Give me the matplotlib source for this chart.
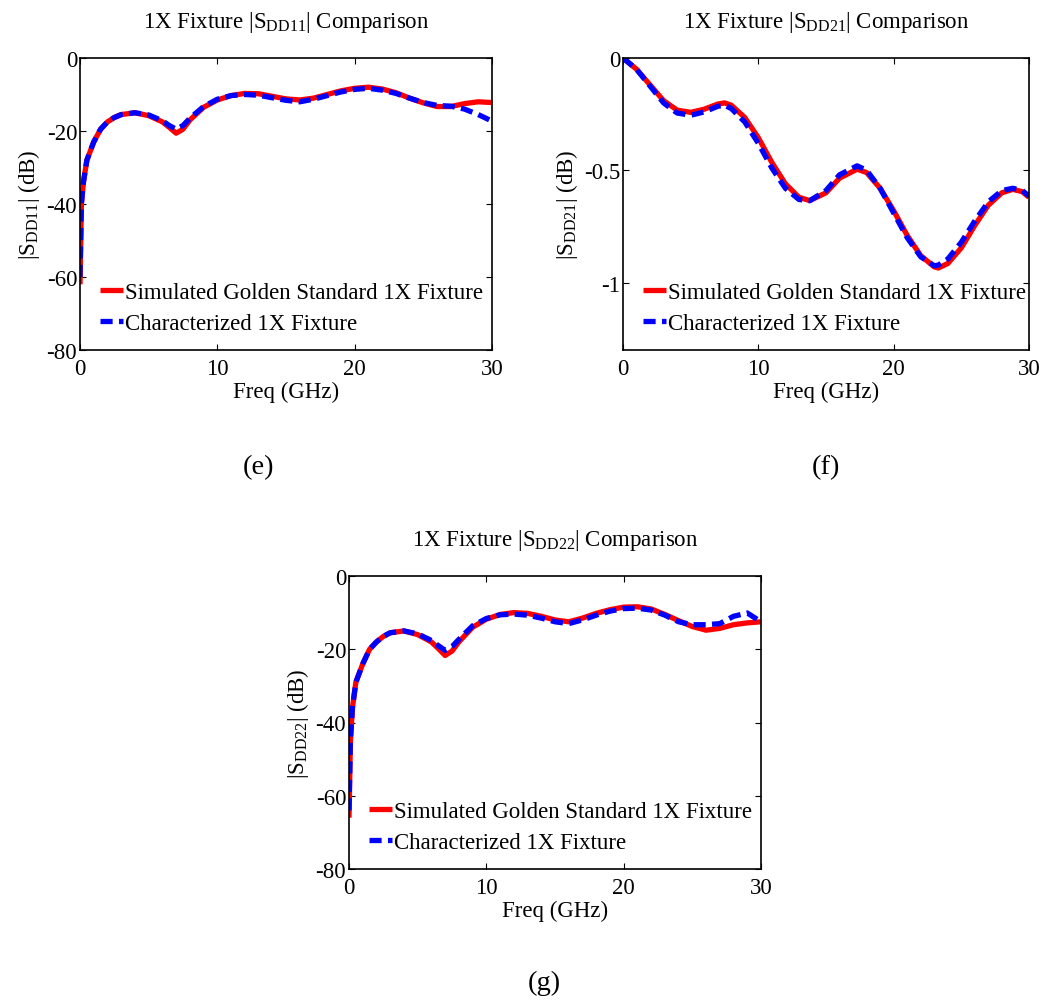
import numpy as np
import matplotlib.pyplot as plt

plt.rcParams['font.family'] = ['Liberation Serif', 'DejaVu Serif']
plt.rcParams['mathtext.fontset'] = 'custom'
plt.rcParams['mathtext.rm'] = 'Liberation Serif'
plt.rcParams['mathtext.it'] = 'Liberation Serif:italic'
plt.rcParams['axes.unicode_minus'] = False

# frequency points (GHz)
freq = [0, 0.1, 0.25, 0.5, 1, 1.5, 2, 2.5, 3, 4, 5, 6, 6.5, 7, 7.5, 8, 9, 10, 11, 12, 13,
        14, 15, 16, 17, 18, 19, 20, 21, 22, 23, 24, 25, 26, 27, 28, 29, 30]

# |SDD11| (dB)
sdd11_sim = [-62, -40, -34, -28, -23, -19.5, -17.5, -16.3, -15.5, -15, -15.8, -17.5, -19, -20.6,
             -19.5, -17, -13.5, -11.5, -10.3, -9.7, -9.8, -10.5, -11.2, -11.5, -11, -10, -9,
             -8.3, -8, -8.5, -9.5, -11, -12.3, -13.3, -13.3, -12.5, -12, -12.2]
sdd11_char = [-60, -40, -34, -28, -23, -19.5, -17.5, -16.3, -15.5, -15, -15.6, -17.2, -18.5,
              -19.5, -18.5, -16.5, -13.3, -11.3, -10.3, -10, -10.2, -10.9, -11.6, -12, -11.3,
              -10.3, -9.3, -8.6, -8.3, -8.8, -9.7, -11, -12.2, -13, -13.2, -14, -15.5, -17.3]

# |SDD21| (dB)
freq21 = [0, 1, 2, 3, 4, 5, 6, 7, 7.5, 8, 9, 10, 11, 12, 13, 13.8, 15, 16, 17.3, 18, 19, 20,
          21, 22, 23, 23.3, 24, 25, 26, 27, 28, 28.8, 29.5, 30]
sdd21_sim = [0, -0.05, -0.12, -0.19, -0.232, -0.242, -0.228, -0.205, -0.2, -0.21, -0.265,
             -0.355, -0.465, -0.56, -0.62, -0.635, -0.6, -0.535, -0.495, -0.51, -0.58, -0.68,
             -0.79, -0.88, -0.93, -0.935, -0.915, -0.845, -0.745, -0.655, -0.6, -0.585,
             -0.595, -0.62]
sdd21_char = [0, -0.05, -0.125, -0.2, -0.245, -0.255, -0.24, -0.215, -0.21, -0.225, -0.285,
              -0.38, -0.49, -0.58, -0.63, -0.635, -0.59, -0.52, -0.48, -0.5, -0.58, -0.69,
              -0.8, -0.885, -0.925, -0.922, -0.895, -0.82, -0.725, -0.64, -0.59, -0.58,
              -0.59, -0.615]

# |SDD22| (dB)
sdd22_sim = [-66, -45, -36, -29, -24, -20, -18, -16.5, -15.5, -15, -16, -18, -19.8, -21.7,
             -20.5, -18, -14, -11.8, -10.5, -10, -10.2, -11, -12, -12.5, -11.5, -10.2, -9.2,
             -8.5, -8.4, -9, -10.5, -12.2, -13.8, -14.8, -14.3, -13.3, -12.8, -12.5]
sdd22_char = [-64, -45, -36, -29, -24, -20, -18, -16.5, -15.5, -15, -15.8, -17.6, -19,
              -20.3, -19.3, -17.3, -13.6, -11.6, -10.6, -10.4, -10.7, -11.5, -12.5, -13,
              -12, -10.7, -9.6, -8.9, -8.8, -9.3, -10.7, -12.5, -13.3, -13.3, -13, -11,
              -10.1, -12.5]

fs = 16.5
fig = plt.figure(figsize=(10.44, 10.04), dpi=100)
W, H = 1044.0, 1004.0


def make_ax(x0, x1, y0, y1):
    return fig.add_axes([x0 / W, 1 - y1 / H, (x1 - x0) / W, (y1 - y0) / H])


def style(ax, ylim, yticks, title, ylabel):
    ax.set_xlim(0, 30)
    ax.set_ylim(*ylim)
    ax.set_xticks([0, 10, 20, 30])
    ax.set_yticks(yticks)
    ax.tick_params(direction='in', top=True, right=True, labelsize=fs, length=4,
                   width=0.8, pad=2)
    ax.tick_params(axis='x', pad=6)
    for s in ax.spines.values():
        s.set_linewidth(1.2)
    ax.set_title(title, fontsize=fs, pad=22)
    ax.set_xlabel('Freq (GHz)', fontsize=fs, labelpad=1)
    ax.set_ylabel(ylabel, fontsize=fs, labelpad=3)
    ax.legend(loc='lower left', bbox_to_anchor=(0.01, 0.0), frameon=False,
              fontsize=fs, handlelength=1.0, handletextpad=0.1, labelspacing=0.45,
              borderaxespad=0.3)


def draw(ax, x, sim, char):
    ax.plot(x, sim, color='red', lw=3.8, label='Simulated Golden Standard 1X Fixture',
            solid_joinstyle='round', solid_capstyle='butt')
    ax.plot(x, char, color='blue', lw=3.8, dashes=(2.3, 1.2),
            label='Characterized 1X Fixture')


ax1 = make_ax(80, 492, 59, 351)
draw(ax1, freq, sdd11_sim, sdd11_char)
style(ax1, (-80, 0), [-80, -60, -40, -20, 0],
      r'1X Fixture |S$_{\mathrm{DD11}}$| Comparison', r'|S$_{\mathrm{DD11}}$| (dB)')

ax2 = make_ax(623, 1029, 59, 351)
draw(ax2, freq21, sdd21_sim, sdd21_char)
style(ax2, (-1.3, 0), [-1, -0.5, 0],
      r'1X Fixture |S$_{\mathrm{DD21}}$| Comparison', r'|S$_{\mathrm{DD21}}$| (dB)')
ax2.set_yticklabels(['-1', '-0.5', '0'])

ax3 = make_ax(349, 761, 577, 870)
draw(ax3, freq, sdd22_sim, sdd22_char)
style(ax3, (-80, 0), [-80, -60, -40, -20, 0],
      r'1X Fixture |S$_{\mathrm{DD22}}$| Comparison', r'|S$_{\mathrm{DD22}}$| (dB)')

fig.text(258 / W, 1 - 468 / H, '(e)', fontsize=20.5, ha='center', va='center')
fig.text(826 / W, 1 - 468 / H, '(f)', fontsize=20.5, ha='center', va='center')
fig.text(544 / W, 1 - 983 / H, '(g)', fontsize=20.5, ha='center', va='center')

fig.savefig('out.png', dpi=100)
